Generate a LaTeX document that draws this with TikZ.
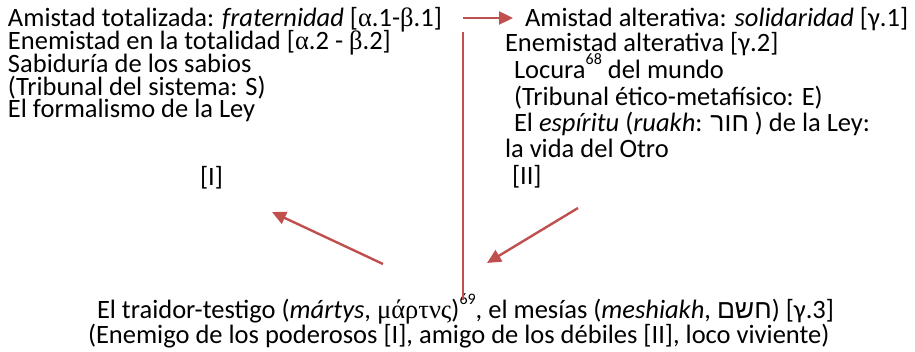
\documentclass[tikz,border=0pt]{standalone}
\usepackage{fontspec}
\setmainfont{Carlito}
\newfontfamily\grfont{Liberation Serif}
\newfontfamily\hebfont[Script=Hebrew]{Liberation Sans}
\usetikzlibrary{arrows.meta}
\definecolor{arrred}{RGB}{192,80,77}
\newcommand{\gr}[1]{{\grfont #1}}
\newcommand{\hebch}[1]{\hbox{\hebfont #1}}
\newcommand{\supnum}[1]{\raisebox{14pt}{\fontsize{16}{16}\selectfont #1}}
\begin{document}
\begin{tikzpicture}[x=1pt,y=-1pt,
  txt/.style={anchor=base west,inner sep=0pt,outer sep=0pt,font=\fontsize{26.5}{30}\selectfont},
  redarrow/.style={draw=arrred,line width=2.4pt,-{Triangle[length=14pt,width=13pt]}},
  redline/.style={draw=arrred,line width=2pt}]
\useasboundingbox (0,0) rectangle (915,352);
% left block
\node[txt] (l1) at (8,27) {Amistad totalizada: \textit{fraternidad} [\gr{α}.1-\gr{β}.1]};
\node[txt] (l2) at (8,49.5) {Enemistad en la totalidad [\gr{α}.2 - \gr{β}.2]};
\node[txt] (l3) at (8,72.5) {Sabiduría de los sabios};
\node[txt] (l4) at (8,95.5) {(Tribunal del sistema: S)};
\node[txt] (l5) at (8,118) {El formalismo de la Ley};
\node[txt] (l6) at (200,186) {[I]};
% right block
\node[txt] (r1) at (525,27) {Amistad alterativa: \textit{solidaridad} [γ.1]};
\node[txt] (r2) at (505,52) {Enemistad alterativa [γ.2]};
\node[txt] (r3) at (514,79) {Locura\supnum{68} del mundo};
\node[txt] (r4) at (514,106) {(Tribunal ético-metafísico: E)};
\node[txt] (r5) at (514,132) {El \textit{espíritu} (\textit{ruakh}: \hebch{ר}\hebch{ו}\hebch{ח} ) de la Ley:};
\node[txt] (r6) at (505,158) {la vida del Otro};
\node[txt] (r7) at (512,185) {[II]};
% bottom block
\node[txt] (b1) at (97,319) {El traidor-testigo (\textit{mártys}, \gr{μάρτνς})\supnum{69}, el mesías (\textit{meshiakh}, \hebch{ם}\hebch{ש}\hebch{ח}) [γ.3]};
\node[txt] (b2) at (88,344) {(Enemigo de los poderosos [I], amigo de los débiles [II], loco viviente)};
% connectors
\coordinate (hs) at (463,18);
\coordinate (he) at (513,18);
\coordinate (vs) at (463,32);
\coordinate (ve) at (463,300);
\coordinate (las) at (383,264);
\coordinate (lae) at (272,212);
\coordinate (ras) at (578,208);
\coordinate (rae) at (487,263);
\draw[redarrow] (hs) -- (he);
\draw[redline] (vs) -- (ve);
\draw[redarrow] (las) -- (lae);
\draw[redarrow] (ras) -- (rae);
\end{tikzpicture}
\end{document}
